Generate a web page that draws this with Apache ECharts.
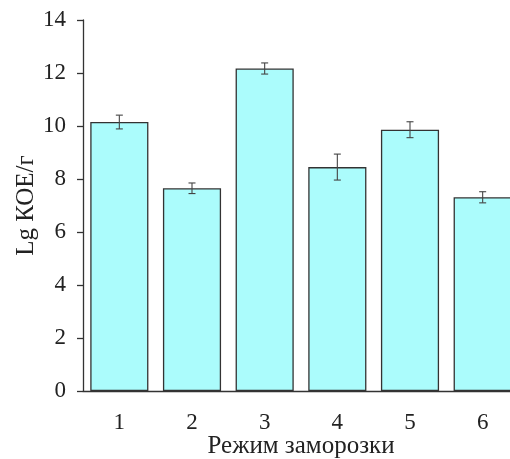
<!DOCTYPE html>
<html>
<head>
<meta charset="utf-8">
<script src="https://cdn.jsdelivr.net/npm/echarts@6/dist/echarts.min.js"></script>
<style>html,body{margin:0;padding:0;background:#fff}#c{width:510px;height:459px}</style>
</head>
<body>
<div id="c"></div>
<script>
var categories = ['1', '2', '3', '4', '5', '6'];
var means = [10.15, 7.65, 12.17, 8.45, 9.86, 7.31];
var errors = [0.26, 0.20, 0.21, 0.49, 0.30, 0.21];
var yTicks = { min: 0, max: 14, interval: 2 };
var xTitle = 'Режим заморозки';
var yTitle = 'Lg КОЕ/г';

var errData = means.map(function (m, i) { return [i, m - errors[i], m + errors[i]]; });
var font = '"Liberation Serif", "Times New Roman", serif';
var chart = echarts.init(document.getElementById('c'), null, { renderer: 'canvas' });
chart.setOption({
  animation: false,
  backgroundColor: '#fff',
  grid: { left: 83, width: 436, top: 20, height: 371, containLabel: false, outerBoundsMode: 'none' },
  xAxis: {
    type: 'category',
    data: categories,
    boundaryGap: true,
    axisLine: { lineStyle: { color: '#333', width: 1.3 } },
    axisTick: { alignWithLabel: true, length: 6, lineStyle: { color: '#333', width: 1.3 } },
    axisLabel: { color: '#222', fontFamily: font, fontSize: 23, margin: 20 },
    name: xTitle,
    nameLocation: 'middle',
    nameGap: 43,
    nameMoveOverlap: false,
    nameTextStyle: { color: '#222', fontFamily: font, fontSize: 25 }
  },
  yAxis: {
    type: 'value',
    min: yTicks.min, max: yTicks.max, interval: yTicks.interval,
    splitLine: { show: false },
    axisLine: { show: true, lineStyle: { color: '#333', width: 1.3 } },
    axisTick: { show: true, length: 6, lineStyle: { color: '#333', width: 1.3 } },
    axisLabel: { color: '#222', fontFamily: font, fontSize: 23, margin: 17 },
    name: yTitle,
    nameLocation: 'middle',
    nameGap: 44,
    nameMoveOverlap: false,
    nameTextStyle: { color: '#222', fontFamily: font, fontSize: 25 }
  },
  series: [
    {
      type: 'bar',
      data: means,
      barWidth: '80%',
      itemStyle: { color: '#abfcfc', borderColor: '#333', borderWidth: 1.3 }
    },
    {
      type: 'custom',
      data: errData,
      z: 10,
      renderItem: function (params, api) {
        var x = api.value(0);
        var lo = api.coord([x, api.value(1)]);
        var hi = api.coord([x, api.value(2)]);
        var hw = 3.5;
        var st = { stroke: '#444', lineWidth: 1.1, fill: null };
        return {
          type: 'group',
          children: [
            { type: 'line', shape: { x1: lo[0], y1: lo[1], x2: hi[0], y2: hi[1] }, style: st },
            { type: 'line', shape: { x1: hi[0] - hw, y1: hi[1], x2: hi[0] + hw, y2: hi[1] }, style: st },
            { type: 'line', shape: { x1: lo[0] - hw, y1: lo[1], x2: lo[0] + hw, y2: lo[1] }, style: st }
          ]
        };
      }
    }
  ]
});
</script>
</body>
</html>
